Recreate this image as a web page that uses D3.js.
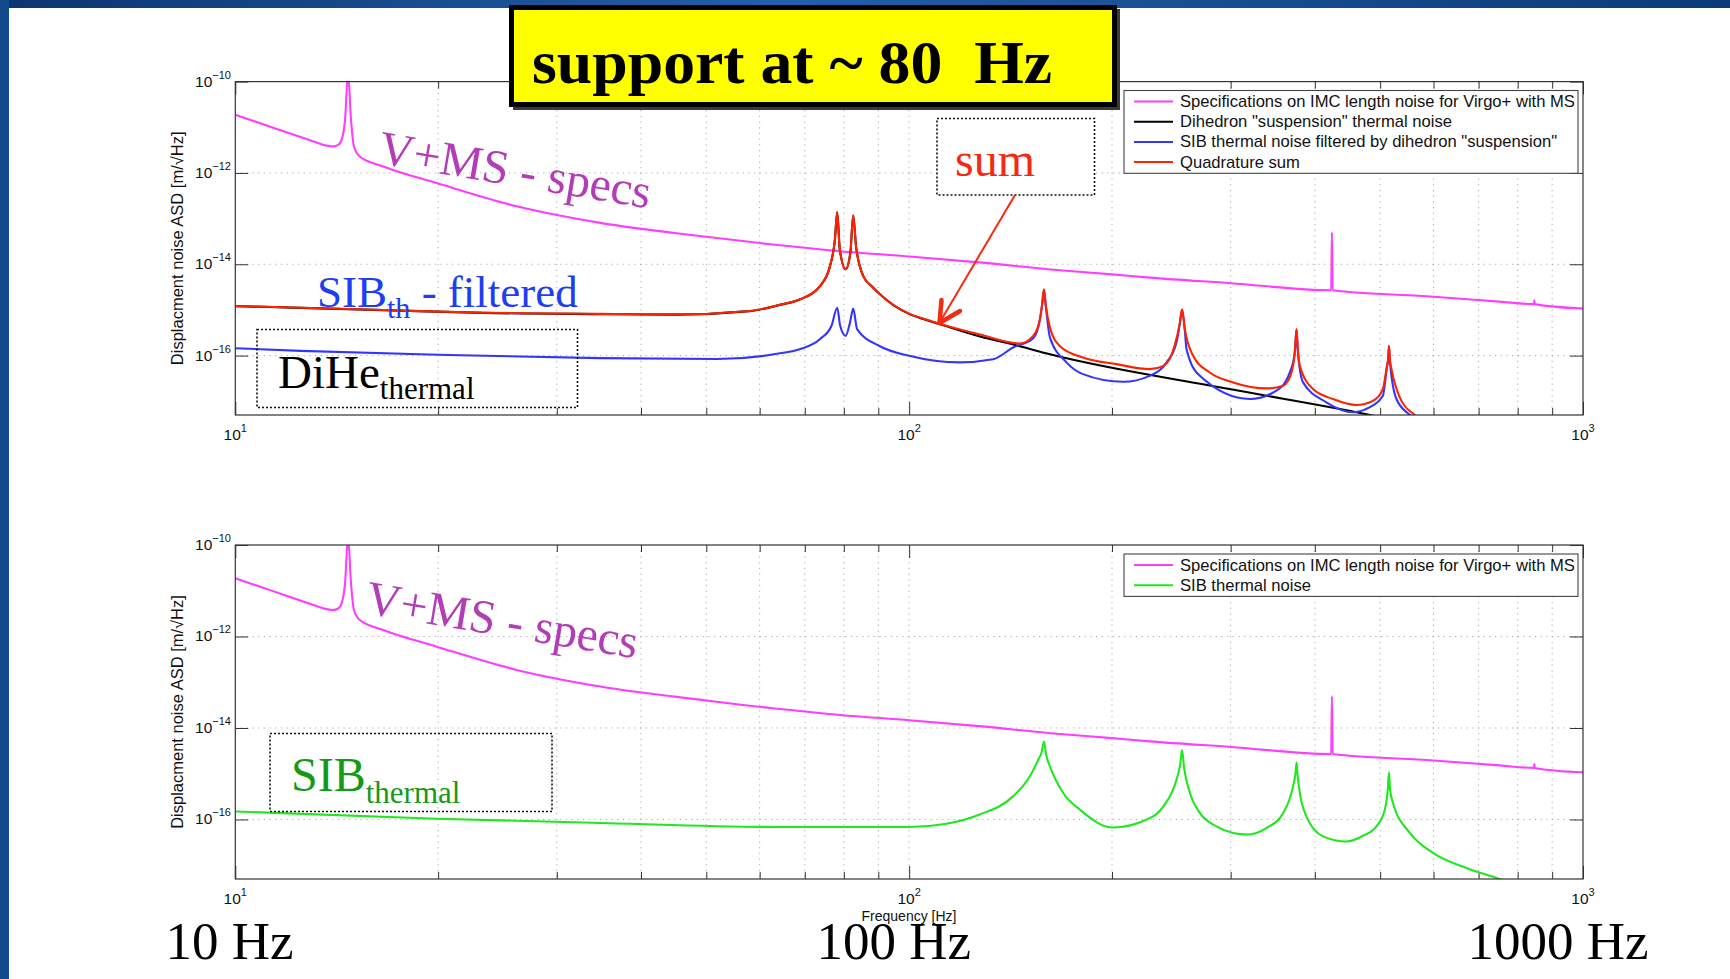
<!DOCTYPE html>
<html><head><meta charset="utf-8">
<script src="https://cdn.jsdelivr.net/npm/d3@7"></script>
<style>
html,body{margin:0;padding:0;background:#fff;}
svg{display:block;}
</style></head><body>
<svg id="chart" width="1730" height="979"></svg>
<script>
// ---------------- data ----------------
const specFreq = [10,11,12,13,13.5,13.95,14.22,14.38,14.55,14.7,14.85,15,15.3,16.58,19.9,26.15,34.8,50,62.7,79,100,127,162,200,227.5,300,423,424,425,600,752,846,847,848,1000];
const specASD  = [1.87e-11,1.16e-11,7.5e-12,5.0e-12,4.13e-12,3.79e-12,4.1e-12,5.3e-12,1.45e-11,1.5e-10,1.45e-11,3.8e-12,2.29e-12,1.39e-12,6.0e-13,1.86e-13,8.05e-14,4.0e-14,2.7e-14,1.93e-14,1.48e-14,1.1e-14,7.7e-15,6.0e-15,5.1e-15,3.85e-15,2.7e-15,5.0e-14,2.7e-15,1.95e-15,1.52e-15,1.34e-15,1.62e-15,1.34e-15,1.07e-15];

const diheFreq = [10,12.5,16.58,23.3,34.8,45,58,64.3,68.8,73.7,76.3,77.6,78.2,78.9,80.5,81.8,82.6,83.4,85.5,88,90.5,95,100,105,110.9,127,146,161.8,299,477,550];
const diheASD  = [1.21e-15,1.11e-15,9.9e-16,8.6e-16,8.1e-16,7.9e-16,9.4e-16,1.29e-15,1.69e-15,3.29e-15,9.1e-15,3.5e-14,1.37e-13,2.1e-14,7.8e-15,1.78e-14,1.17e-13,2.5e-14,5.5e-15,3.3e-15,2.2e-15,1.24e-15,8.2e-16,6.3e-16,4.9e-16,2.65e-16,1.6e-16,1.07e-16,1.85e-17,5.2e-18,3.3e-18];

const sibFiltFreq = [10,12.5,20.8,34.8,51.9,64.3,68.8,73.7,76.7,78.2,79,80.5,81.7,82.6,83.7,90.5,100,118.9,133.2,142.6,152.8,156.3,157.5,158.5,159.5,161.8,171.2,181.1,207.7,227.5,241,249.3,252.2,254.1,256.5,258,270,320.3,350.8,367.2,373.5,375.7,377.5,384.2,416,456,482.6,504.6,511.7,514,515.3,517,528.6,553.5,600];
const sibFiltASD  = [1.45e-16,1.27e-16,1.03e-16,8.8e-17,8.4e-17,1.12e-16,1.38e-16,2.28e-16,4.5e-16,1.12e-15,4.5e-16,2.7e-16,5.3e-16,1.07e-15,3.8e-16,1.6e-16,9.9e-17,7.1e-17,8.3e-17,1.5e-16,2.4e-16,6.0e-16,1.28e-15,2.78e-15,1.22e-15,2.48e-16,7.1e-17,3.93e-17,2.67e-17,3.6e-17,7.1e-17,1.93e-16,5.0e-16,1.0e-15,3.6e-16,1.38e-16,3.6e-17,1.12e-17,1.7e-17,4.27e-17,1.15e-16,3.7e-16,1.2e-16,2.59e-17,9.5e-18,5.75e-18,7.4e-18,1.32e-17,5.5e-17,8.5e-17,1.6e-16,7.5e-17,1.12e-17,5.0e-18,2.5e-18];

const sumFreq = [10,12.5,16.58,23.3,34.8,45,58,64.3,68.8,73.7,76.3,77.6,78.2,78.9,80.5,81.8,82.6,83.4,85.5,88,90.5,95,100,105,110.9,127,146,152.8,156.3,157.5,158.5,159.5,161.8,167.3,181.1,203.1,227.5,238.4,247.7,252.2,254.1,256.5,263.9,279.3,302.5,339,359,369.3,373.5,375.7,377.5,380,397.6,425.6,461.2,487.6,504.6,511.7,514,515.3,517,519.8,534.6,562.8,600];
const sumASD  = [1.22e-15,1.12e-15,9.95e-16,8.7e-16,8.2e-16,8.0e-16,9.5e-16,1.3e-15,1.7e-15,3.3e-15,9.1e-15,3.5e-14,1.37e-13,2.1e-14,7.8e-15,1.78e-14,1.17e-13,2.5e-14,5.5e-15,3.3e-15,2.2e-15,1.25e-15,8.3e-16,6.4e-16,5.0e-16,2.93e-16,1.84e-16,2.7e-16,6.2e-16,1.3e-15,2.8e-15,1.25e-15,4.1e-16,1.63e-16,9.1e-17,6.5e-17,5.05e-17,5.96e-17,1.63e-16,5.28e-16,1.03e-15,3.8e-16,9.9e-17,4.27e-17,2.59e-17,1.91e-17,2.19e-17,4.27e-17,1.2e-16,3.8e-16,1.3e-16,5.96e-17,1.85e-17,1.12e-17,8.26e-18,1.02e-17,1.85e-17,5.96e-17,9e-17,1.63e-16,8e-17,5.05e-17,1.22e-17,5.0e-18,3.0e-18];

const sibFreq = [10,19.9,34.8,64.3,100,113.6,127,142.6,151,155.4,157.3,158.5,159.7,161.8,169.3,179.2,200.5,224.9,238.4,249.3,252.5,254.1,255.8,261,270,285.8,302.5,316.7,339,359,371.3,374.3,375.7,377.2,380,388.6,411.4,445.7,471.6,493.7,508,513.5,515.3,517.2,522.5,553.5,598.9,671.5,752,800];
const sibASD  = [1.5e-16,1.04e-16,8.4e-17,6.86e-17,6.86e-17,8.1e-17,1.27e-16,3.2e-16,8.7e-16,2.0e-15,3.0e-15,5.07e-15,2.6e-15,1.45e-15,3.8e-16,1.64e-16,6.7e-17,9.9e-17,1.93e-16,7.4e-16,1.6e-15,3.3e-15,1.4e-15,3.8e-16,1.39e-16,7.1e-17,5.07e-17,4.7e-17,6.5e-17,1.39e-16,5.3e-16,1.0e-15,1.77e-15,9e-16,3.8e-16,1.17e-16,4.27e-17,3.3e-17,4.4e-17,7.1e-17,1.64e-16,5e-16,1.07e-15,4.5e-16,2.3e-16,5.07e-17,1.86e-17,8.7e-18,5.0e-18,3.5e-18];

const xMajorTicks = [10, 100, 1000];
const xMajorExp = ["1", "2", "3"];
const xMinorTicks = [20,30,40,50,60,70,80,90,200,300,400,500,600,700,800,900];
const yTicks = [1e-10, 1e-12, 1e-14, 1e-16];
const yTickExp = ["\u221210", "\u221212", "\u221214", "\u221216"];
const legendTop = ["Specifications on IMC length noise for Virgo+ with MS", "Dihedron \"suspension\" thermal noise", "SIB thermal noise filtered by dihedron \"suspension\"", "Quadrature sum"];
const legendBottom = ["Specifications on IMC length noise for Virgo+ with MS", "SIB thermal noise"];
const bigFreqLabels = ["10 Hz", "100 Hz", "1000 Hz"];

// ---------------- styles ----------------
const C = {magenta:"#ff3cff", black:"#000000", blue:"#3434ff", red:"#ff2200", green:"#1fe81f"};
const SANS = "'Liberation Sans', Arial, Helvetica, sans-serif";
const SERIF = "'Liberation Serif', 'Times New Roman', Times, serif";

const svg = d3.select("#chart");

// slide background frame
const defs = svg.append("defs");
const grad = defs.append("linearGradient").attr("id","band").attr("x1","0").attr("x2","1").attr("y1","0").attr("y2","0");
grad.append("stop").attr("offset","0%").attr("stop-color","#0d3570");
grad.append("stop").attr("offset","45%").attr("stop-color","#2260a8");
grad.append("stop").attr("offset","100%").attr("stop-color","#0c3a78");
svg.append("rect").attr("x",0).attr("y",0).attr("width",1730).attr("height",979).attr("fill","#fff");
svg.append("rect").attr("x",0).attr("y",0).attr("width",1730).attr("height",8).attr("fill","url(#band)");
svg.append("rect").attr("x",0).attr("y",0).attr("width",9).attr("height",979).attr("fill","#134a8c");

const x = d3.scaleLog().domain([10, 1000]).range([235.3, 1583]);

function panel(top, bottom, series, legendLabels, legendColors, legendY, showXLabel, id) {
  const y = d3.scaleLog().domain([5e-18, 1e-10]).range([bottom, top]);
  const g = svg.append("g");
  defs.append("clipPath").attr("id", "clip" + id).append("rect")
    .attr("x", x.range()[0]).attr("y", top).attr("width", x.range()[1] - x.range()[0]).attr("height", bottom - top);
  g.append("rect").attr("x", x.range()[0]).attr("y", top).attr("width", x.range()[1]-x.range()[0]).attr("height", bottom-top).attr("fill","#fff");

  // grid
  const grid = g.append("g").attr("stroke", "#a8a8a8").attr("stroke-width", 1).attr("stroke-dasharray", "1.2,4.5");
  grid.selectAll(".vg").data(xMinorTicks.concat([100])).join("line")
    .attr("x1", d => x(d)).attr("x2", d => x(d)).attr("y1", top).attr("y2", bottom);
  grid.selectAll(".hg").data(yTicks.slice(1)).join("line")
    .attr("x1", x.range()[0]).attr("x2", x.range()[1]).attr("y1", d => y(d)).attr("y2", d => y(d));

  // axes ticks (inside)
  const axStyle = s => { s.select(".domain").remove(); s.selectAll("line").attr("stroke", "#333"); };
  g.append("g").attr("transform", `translate(0,${bottom})`).call(d3.axisBottom(x).tickValues(xMinorTicks).tickSize(-7).tickFormat("")).call(axStyle);
  g.append("g").attr("transform", `translate(0,${bottom})`).call(d3.axisBottom(x).tickValues(xMajorTicks).tickSize(-13).tickFormat("")).call(axStyle);
  g.append("g").attr("transform", `translate(0,${top})`).call(d3.axisTop(x).tickValues(xMinorTicks).tickSize(-7).tickFormat("")).call(axStyle);
  g.append("g").attr("transform", `translate(0,${top})`).call(d3.axisTop(x).tickValues(xMajorTicks).tickSize(-13).tickFormat("")).call(axStyle);
  g.append("g").attr("transform", `translate(${x.range()[0]},0)`).call(d3.axisLeft(y).tickValues(yTicks).tickSize(-13).tickFormat("")).call(axStyle);
  g.append("g").attr("transform", `translate(${x.range()[1]},0)`).call(d3.axisRight(y).tickValues(yTicks).tickSize(-13).tickFormat("")).call(axStyle);

  // curves
  const cg = g.append("g").attr("clip-path", `url(#clip${id})`);
  series.forEach(s => {
    const pts = s.f.map((f, i) => [f, s.v[i]]);
    const line = d3.line().x(d => x(d[0])).y(d => y(d[1])).curve(d3.curveMonotoneX);
    cg.append("path").attr("d", line(pts)).attr("fill", "none").attr("stroke", s.color)
      .attr("stroke-width", 2.1).attr("stroke-linejoin", "round");
  });

  // frame
  g.append("rect").attr("x", x.range()[0]).attr("y", top).attr("width", x.range()[1]-x.range()[0]).attr("height", bottom-top)
    .attr("fill","none").attr("stroke","#333").attr("stroke-width",1.2);

  // y tick labels
  const yl = g.selectAll(".ytl").data(yTicks).join("text")
    .attr("x", 231).attr("y", d => y(d) + 5).attr("text-anchor", "end")
    .attr("font-family", SANS).attr("font-size", 15.5).attr("fill", "#111");
  yl.append("tspan").text("10");
  yl.append("tspan").attr("dy", -8).attr("font-size", 11).text((d, i) => yTickExp[i]);

  // x tick labels
  const xl = g.selectAll(".xtl").data(xMajorTicks).join("text")
    .attr("x", d => x(d)).attr("y", bottom + 25).attr("text-anchor", "middle")
    .attr("font-family", SANS).attr("font-size", 15.5).attr("fill", "#111");
  xl.append("tspan").text("10");
  xl.append("tspan").attr("dy", -8).attr("font-size", 11).text((d, i) => xMajorExp[i]);

  // y label
  g.append("text").attr("transform", `translate(183,${(top+bottom)/2}) rotate(-90)`)
    .attr("text-anchor", "middle").attr("font-family", SANS).attr("font-size", 16.5).attr("fill", "#111")
    .text("Displacment noise ASD [m/\u221AHz]");

  if (showXLabel) {
    g.append("text").attr("x", 909).attr("y", bottom + 42).attr("text-anchor", "middle")
      .attr("font-family", SANS).attr("font-size", 14).attr("fill", "#111").text("Frequency [Hz]");
  }

  // legend
  const step = 20.2;
  const lh = legendLabels.length * step + 2;
  const lg = g.append("g");
  lg.append("rect").attr("x", 1124).attr("y", legendY).attr("width", 454).attr("height", lh)
    .attr("fill", "#fff").attr("stroke", "#444").attr("stroke-width", 1.1);
  legendLabels.forEach((lab, i) => {
    const cy = legendY + 11 + i * step;
    lg.append("line").attr("x1", 1134).attr("x2", 1173).attr("y1", cy).attr("y2", cy)
      .attr("stroke", legendColors[i]).attr("stroke-width", 2);
    lg.append("text").attr("x", 1180).attr("y", cy + 5.5).attr("font-family", SANS).attr("font-size", 16.6)
      .attr("fill", "#111").text(lab);
  });
  return y;
}

panel(81.6, 415, [
  {f: specFreq, v: specASD, color: C.magenta},
  {f: diheFreq, v: diheASD, color: C.black},
  {f: sibFiltFreq, v: sibFiltASD, color: C.blue},
  {f: sumFreq, v: sumASD, color: C.red}
], legendTop, [C.magenta, C.black, C.blue, C.red], 90.5, false, "t");

panel(545, 879, [
  {f: specFreq, v: specASD, color: C.magenta},
  {f: sibFreq, v: sibASD, color: C.green}
], legendBottom, [C.magenta, C.green], 554, true, "b");

// ---------------- annotations ----------------
const ann = svg.append("g").attr("font-family", SERIF);

// V+MS - specs (both panels)
[[377, 163], [364, 613]].forEach(p => {
  ann.append("text").attr("x", p[0]).attr("y", p[1]).attr("transform", `rotate(9.5,${p[0]},${p[1]})`)
    .attr("font-size", 48).attr("fill", "#b23db6").text("V+MS - specs");
});

// SIB_th - filtered
const t1 = ann.append("text").attr("x", 317).attr("y", 307).attr("font-size", 45).attr("fill", "#1f3ef2");
t1.append("tspan").text("SIB");
t1.append("tspan").attr("font-size", 30).attr("dy", 11).text("th");
t1.append("tspan").attr("dy", -11).text(" - filtered");

// DiHe_thermal box
ann.append("rect").attr("x", 257).attr("y", 329.5).attr("width", 320.5).attr("height", 78)
  .attr("fill", "none").attr("stroke", "#111").attr("stroke-width", 1.6).attr("stroke-dasharray", "2,2");
const t2 = ann.append("text").attr("x", 278).attr("y", 388).attr("font-size", 47).attr("fill", "#000");
t2.append("tspan").text("DiHe");
t2.append("tspan").attr("font-size", 31).attr("dy", 11).text("thermal");

// SIB_thermal box (bottom)
ann.append("rect").attr("x", 270).attr("y", 733.5).attr("width", 282).attr("height", 78)
  .attr("fill", "none").attr("stroke", "#111").attr("stroke-width", 1.6).attr("stroke-dasharray", "2,2");
const t3 = ann.append("text").attr("x", 291).attr("y", 790.5).attr("font-size", 48).attr("fill", "#149a16");
t3.append("tspan").text("SIB");
t3.append("tspan").attr("font-size", 31).attr("dy", 12).text("thermal");

// sum box + arrow
ann.append("rect").attr("x", 937).attr("y", 118.5).attr("width", 157.5).attr("height", 76.5)
  .attr("fill", "#fff").attr("stroke", "#111").attr("stroke-width", 1.6).attr("stroke-dasharray", "2,2");
ann.append("text").attr("x", 955).attr("y", 176).attr("font-size", 48).attr("fill", "#f22a10").text("sum");
ann.append("line").attr("x1", 1015).attr("y1", 195).attr("x2", 940).attr("y2", 322)
  .attr("stroke", "#f52a10").attr("stroke-width", 2);
ann.append("path").attr("d", "M941.5,300 L939.5,323 L960,311")
  .attr("fill", "none").attr("stroke", "#f52a10").attr("stroke-width", 4.5).attr("stroke-linecap", "round").attr("stroke-linejoin", "round");

// yellow title box
ann.append("rect").attr("x", 513).attr("y", 9).attr("width", 607).attr("height", 101).attr("fill", "#3a3a3a");
ann.append("rect").attr("x", 511.5).attr("y", 7.5).attr("width", 603).attr("height", 97)
  .attr("fill", "#ffff00").attr("stroke", "#000").attr("stroke-width", 5);
ann.append("text").attr("x", 532).attr("y", 83).attr("font-size", 62).attr("font-weight", "bold")
  .attr("fill", "#000").attr("textLength", 520).attr("lengthAdjust", "spacingAndGlyphs")
  .attr("xml:space", "preserve").text("support at ~ 80  Hz");

// big frequency labels
const bigX = [165.5, 816.5, 1467.5];
bigFreqLabels.forEach((t, i) => {
  ann.append("text").attr("x", bigX[i]).attr("y", 959).attr("font-size", 53).attr("fill", "#000").text(t);
});
</script></body></html>
